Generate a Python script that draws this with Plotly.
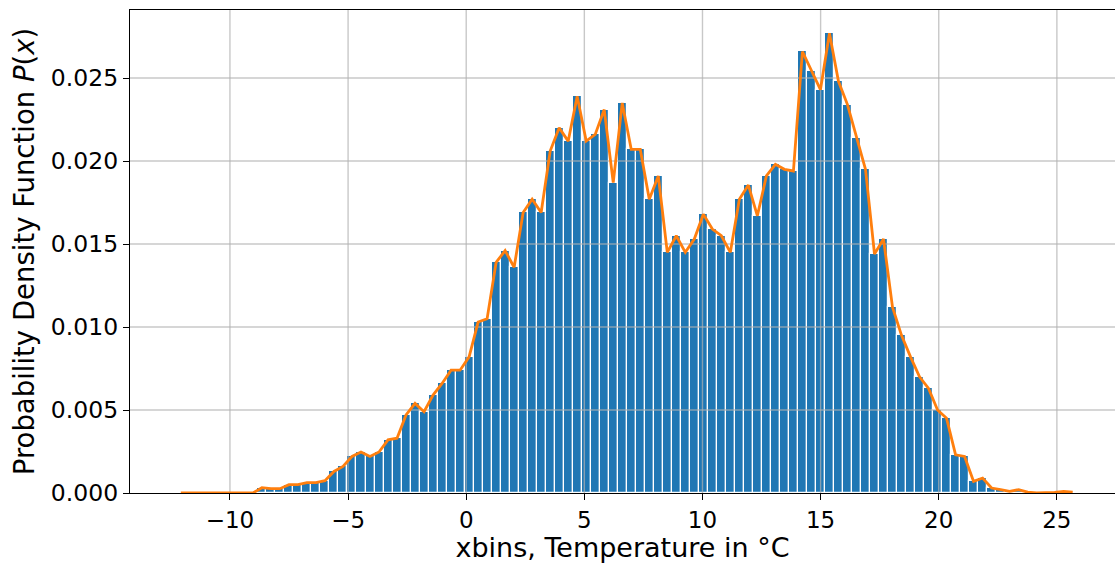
import numpy as np
import plotly.graph_objects as go

# Histogram of temperatures: 100 equal-width bins between the sample extremes
T_MIN = -12.27
T_MAX = 25.86
N_BINS = 100

# Normalised bin heights (probability density per bin)
pdf = [
    0.0, 0.0, 0.0, 0.0, 0.0, 0.0, 0.0, 0.0, 0.0,
    0.00032, 0.00026, 0.00026, 0.00050, 0.00050, 0.00062, 0.00062, 0.00074,
    0.00130, 0.00160, 0.00220, 0.00247, 0.00220, 0.00247, 0.00320, 0.00330,
    0.00470, 0.00540, 0.00490, 0.00590, 0.00660, 0.00740, 0.00740, 0.00820,
    0.01030, 0.01050, 0.01390, 0.01460, 0.01360, 0.01690, 0.01770, 0.01690,
    0.02060, 0.02200, 0.02120, 0.02390, 0.02120, 0.02160, 0.02310, 0.01870,
    0.02350, 0.02070, 0.02070, 0.01770, 0.01910, 0.01450, 0.01550, 0.01450,
    0.01530, 0.01680, 0.01590, 0.01550, 0.01450, 0.01770, 0.01855, 0.01670,
    0.01910, 0.01980, 0.01950, 0.01940, 0.02660, 0.02540, 0.02430, 0.02770,
    0.02480, 0.02340, 0.02140, 0.01950, 0.01440, 0.01530, 0.01120, 0.00950,
    0.00820, 0.00700, 0.00630, 0.00500, 0.00450, 0.00230, 0.00220, 0.00070,
    0.00090, 0.00030, 0.00020, 0.00010, 0.00020, 0.00005, 0.0, 0.0,
    0.00004, 0.00010, 0.00005,
]

x_tick_vals = [-10, -5, 0, 5, 10, 15, 20, 25]
x_tick_labels = ["\u221210", "\u22125", "0", "5", "10", "15", "20", "25"]
y_tick_vals = [0.0, 0.005, 0.010, 0.015, 0.020, 0.025]
y_tick_labels = ["0.000", "0.005", "0.010", "0.015", "0.020", "0.025"]

edges = np.linspace(T_MIN, T_MAX, N_BINS + 1)
xbins = 0.5 * (edges[:-1] + edges[1:])
bin_w = edges[1] - edges[0]

x_range = [-14.23, 27.46]
y_range = [0.0, 0.0291]

BLUE = "#1f77b4"
ORANGE = "#ff7f0e"
GRID = "rgba(176,176,176,0.7)"
FONT = "DejaVu Sans"

fig = go.Figure()

fig.add_trace(go.Bar(
    x=xbins, y=pdf, width=bin_w,
    marker=dict(color=BLUE, line=dict(color="white", width=1.2)),
    showlegend=False, hoverinfo="skip",
))

# grid drawn over the bars but beneath the density curve
gx, gy = [], []
for t in x_tick_vals:
    gx += [t, t, None]
    gy += [y_range[0], y_range[1], None]
for t in y_tick_vals[1:]:
    gx += [x_range[0], x_range[1], None]
    gy += [t, t, None]
fig.add_trace(go.Scatter(
    x=gx, y=gy, mode="lines", line=dict(color=GRID, width=1.4),
    showlegend=False, hoverinfo="skip", cliponaxis=True,
))

fig.add_trace(go.Scatter(
    x=xbins, y=pdf, mode="lines",
    line=dict(color=ORANGE, width=2.8),
    showlegend=False, hoverinfo="skip",
))

fig.update_layout(
    width=1115, height=563,
    margin=dict(l=130, r=0, t=10, b=70),
    paper_bgcolor="white", plot_bgcolor="white",
    font=dict(family=FONT, color="black", size=24),
    bargap=0,
)

fig.update_xaxes(
    range=x_range, showgrid=False, zeroline=False, automargin=False,
    tickvals=x_tick_vals, ticktext=x_tick_labels,
    ticks="outside", ticklen=6, tickwidth=1.4, tickcolor="black",
    showline=True, linecolor="black", linewidth=1.4, mirror=True,
    tickfont=dict(size=23),
    title=dict(text="xbins, Temperature in °C", font=dict(size=27), standoff=12),
)
fig.update_yaxes(
    range=y_range, showgrid=False, zeroline=False, automargin=False,
    tickvals=y_tick_vals, ticktext=y_tick_labels,
    ticks="outside", ticklen=6, tickwidth=1.4, tickcolor="black",
    showline=True, linecolor="black", linewidth=1.4, mirror=False,
    tickfont=dict(size=23.5),
    title=dict(text="Probability Density Function <i>P</i>(<i>x</i>)",
               font=dict(size=27.5), standoff=8),
)

fig.write_html("out.html")
